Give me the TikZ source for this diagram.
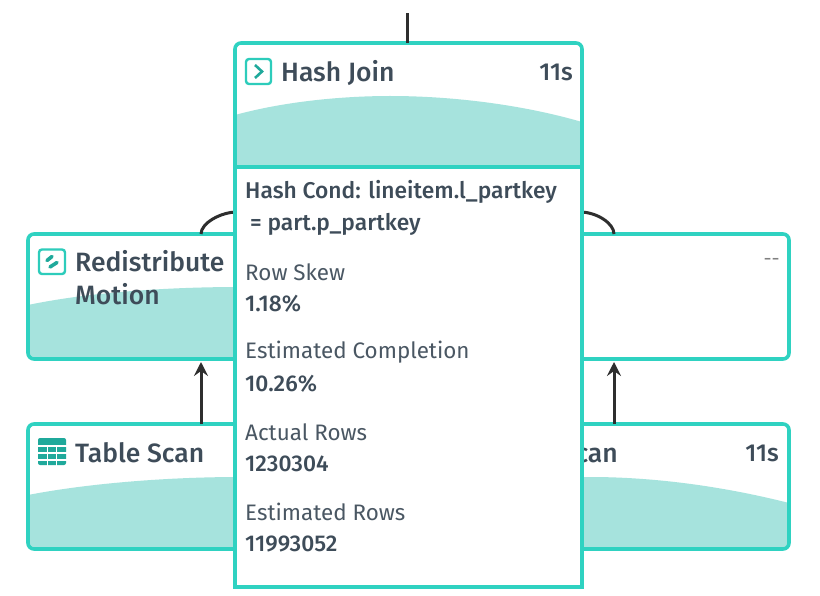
\documentclass[tikz,border=0pt]{standalone}
\usepackage{fontspec}
\setmainfont{Fira Sans}[BoldFont={Fira Sans Medium}]
\usetikzlibrary{arrows.meta}
\definecolor{teal1}{HTML}{2FD2C1}
\definecolor{teal2}{HTML}{A6E3DD}
\definecolor{teal3}{HTML}{1FA99B}
\definecolor{ink}{HTML}{3E4C59}
\definecolor{inkl}{HTML}{4A5763}
\definecolor{edgec}{HTML}{2E2E2E}
\tikzset{
  x=1pt,y=-1pt,
  box/.style={draw=teal1,line width=3.6pt,rounded corners=6pt,anchor=north west,inner sep=0pt,outer sep=0pt},
  pop/.style={draw=teal1,line width=3.6pt,fill=white,anchor=north west,inner sep=0pt,outer sep=0pt},
  title/.style={anchor=west,inner sep=0pt,text=ink,font=\fontsize{26.5}{33}\selectfont\bfseries},
  time/.style={anchor=east,inner sep=0pt,text=ink,font=\fontsize{24.5}{26}\selectfont\bfseries},
  lab/.style={anchor=west,inner sep=0pt,text=inkl,font=\fontsize{22.4}{26}\selectfont},
  val/.style={anchor=west,inner sep=0pt,text=ink,font=\fontsize{22.8}{26}\selectfont\bfseries},
  conn/.style={draw=edgec,line width=3pt},
  arr/.style={conn,-{Stealth[length=14pt,width=14pt,inset=5pt]}},
}
\begin{document}
\begin{tikzpicture}
\useasboundingbox (0,0) rectangle (820,596);
\fill[white] (0,0) rectangle (820,596);
% left/right box fills
\begin{scope}
\clip[rounded corners=6pt] (28,234) rectangle (789,359);
\fill[teal2] (28,305) .. controls (90,292) and (170,287) .. (240,287) -- (240,359) -- (28,359) -- cycle;
\end{scope}
\begin{scope}
\clip[rounded corners=6pt] (28,424) rectangle (789,549);
\fill[teal2] (28,495) .. controls (90,483) and (170,477) .. (240,477) -- (590,477) .. controls (660,477) and (730,488) .. (789,503) -- (789,549) -- (28,549) -- cycle;
\end{scope}
\node[box,minimum width=761pt,minimum height=125pt] (motion) at (28,234) {};
\node[box,minimum width=761pt,minimum height=125pt] (scan) at (28,424) {};
% connectors
\coordinate (topend) at (407,13);
\node[pop,minimum width=347pt,minimum height=420pt] (detail) at (235,167) {};
\draw[conn] ([xshift=-207.5pt]motion.north) .. controls +(0,-11) and +(-16,0) .. ([xshift=2pt,yshift=-45pt]detail.north west);
\draw[conn] ([xshift=205.5pt]motion.north) .. controls +(0,-11) and +(16,0) .. ([xshift=-2pt,yshift=-45pt]detail.north east);
\draw[arr] ([xshift=-207.5pt]scan.north) -- ([xshift=-207.5pt,yshift=-3pt]motion.south);
\draw[arr] ([xshift=205.5pt]scan.north) -- ([xshift=205.5pt,yshift=-3pt]motion.south);
% popup on top
\node[pop,minimum width=347pt,minimum height=420pt] at (235,167) {};
\fill[white,rounded corners=6pt] (235,43) -- (582,43) -- (582,167) [sharp corners] -- (235,167) -- cycle;
\begin{scope}
\clip (235,43) rectangle (582,167);
\fill[teal2] (235,115) .. controls (290,100) and (350,96) .. (390,96) .. controls (450,96) and (520,104) .. (582,122) -- (582,167) -- (235,167) -- cycle;
\end{scope}
\node[box,minimum width=347pt,minimum height=124pt,draw=none] (join) at (235,43) {};
\draw[draw=teal1,line width=3.6pt] (235,167) -- (235,49) arc[start angle=180,end angle=90,radius=6pt] -- (576,43) arc[start angle=90,end angle=0,radius=6pt] -- (582,167) -- cycle;
\draw[conn] ([xshift=-1.5pt]join.north) -- (topend);
% join icon
\draw[teal1!85!teal3,line width=2.4pt,rounded corners=3pt] (246,59) rectangle (271,84);
\draw[teal3,line width=2.6pt] (255,65) -- (262,71.5) -- (255,78);
\node[title] (tjoin) at (281,73) {Hash Join};
\node[time] (tjt) at (573,72) {11s};
% motion icon
\draw[teal1!85!teal3,line width=2.4pt,rounded corners=3pt] (39,249.5) rectangle (65,274);
\draw[teal3,line width=3.6pt,line cap=round] (47,260.5) -- (52,256.5);
\draw[teal3,line width=3.6pt,line cap=round] (50,267) -- (57,262.5);
\node[title,align=left,text width=170pt,anchor=north west] (tmotion) at (75,250) {Redistribute\\[0pt]Motion};
\node[time,font=\fontsize{20}{24}\selectfont,text=gray] (tdash) at (780,262) {{-}{-}};
% table icon
\fill[teal3,rounded corners=2pt] (38,438) rectangle (66,465);
\foreach \xa in {46.5,56}{\fill[white] (\xa,445) rectangle (\xa+1.2,466);}
\foreach \ya in {445,452,459}{\fill[white] (37,\ya) rectangle (67,\ya+1.5);}
\node[title] (tscan) at (75,453) {Table Scan};
\begin{scope}
\clip (584,430) rectangle (700,470);
\node[title,anchor=east] (tscan2) at (618,453) {Table Scan};
\end{scope}
\node[time] (tst) at (779,453) {11s};
% details
\node[val] (a1) at (245,192) {Hash Cond: lineitem.l\_partkey};
\node[val] (a2) at (250,224) {= part.p\_partkey};
\node[lab] (b1) at (245,272) {Row Skew};
\node[val] (b2) at (245,304) {1.18\%};
\node[lab] (c1) at (245,352) {Estimated Completion};
\node[val] (c2) at (245,384) {10.26\%};
\node[lab] (d1) at (245,432) {Actual Rows};
\node[val] (d2) at (245,464) {1230304};
\node[lab] (e1) at (245,512) {Estimated Rows};
\node[val] (e2) at (245,544) {11993052};
\end{tikzpicture}
\end{document}
